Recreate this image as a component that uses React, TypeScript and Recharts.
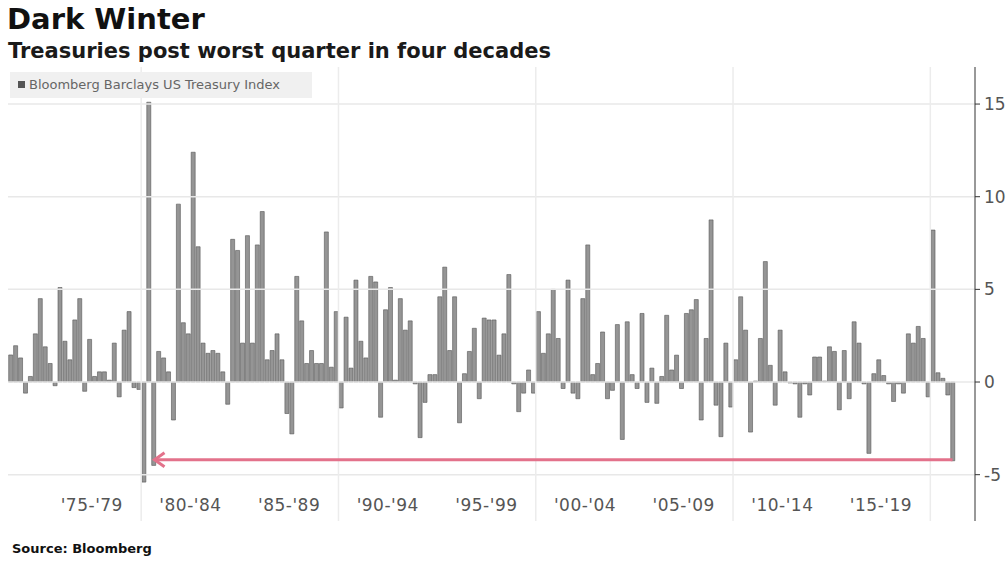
import React from "react";
import { BarChart, Bar, XAxis, YAxis, ReferenceLine } from "recharts";

// quarterly total return, %, Bloomberg Barclays US Treasury Index (1973 Q2 .. 2021 Q1)
const returns1970s = [
  1.46, 1.96, 1.3, -0.6, 0.3, 2.6, 4.5, 1.9, 1.0, -0.2, 5.1, 2.2, 1.2, 3.35,
  4.5, -0.5, 2.3, 0.3, 0.55, 0.55, 0.1, 2.1, -0.8, 2.8, 3.8, -0.3, -0.4,
];
const returns1980s = [
  -5.4, 15.1, -4.5, 1.65, 1.3, 0.55, -2.05, 9.6, 3.2, 2.6, 12.4, 7.3, 2.1, 1.55,
  1.7, 1.55, 0.55, -1.2, 7.7, 7.1, 2.1, 7.9, 2.1, 7.4, 9.2, 1.2, 1.7, 2.6, 1.2,
  -1.7, -2.8, 5.7, 3.3, 1.0, 1.7, 1.0, 1.0, 8.1, 0.8, 3.8,
];
const returns1990s = [
  -1.4, 3.5, 0.75, 5.5, 2.2, 1.3, 5.7, 5.4, -1.9, 3.9, 5.1, 0.1, 4.5, 2.8, 3.3,
  -0.1, -3.0, -1.1, 0.4, 0.4, 4.6, 6.2, 1.7, 4.6, -2.2, 0.45, 1.65, 2.9, -0.9,
  3.45, 3.35, 3.35, 1.45, 2.6, 5.8, -0.1, -1.6, -0.6, 0.65, -0.6,
];
const returns2000s = [
  3.8, 1.55, 2.6, 5.0, 2.35, -0.35, 5.5, -0.6, -0.9, 4.5, 7.4, 0.4, 1.0, 2.7,
  -0.9, -0.45, 3.1, -3.1, 3.25, 0.4, -0.35, 3.7, -1.1, 0.75, -1.15, 0.3, 3.6,
  0.65, 1.45, -0.35, 3.7, 3.9, 4.45, -2.05, 2.35, 8.75, -1.25, -2.95, 2.1, -1.35,
];
const returns2010s = [
  1.2, 4.6, 2.8, -2.7, 0.05, 2.35, 6.5, 0.9, -1.25, 2.8, 0.55, -0.05, -0.1, -1.9,
  -0.1, -0.7, 1.35, 1.35, 0.05, 1.9, 1.65, -1.5, 1.7, -0.9, 3.25, 2.1, -0.1,
  -3.85, 0.45, 1.2, 0.35, -0.1, -1.05, -0.1, -0.6, 2.6, 2.1, 3.0, 2.35, -0.8,
];
const returns2020s = [8.2, 0.5, 0.2, -0.7, -4.25];

const allReturns = [
  ...returns1970s,
  ...returns1980s,
  ...returns1990s,
  ...returns2000s,
  ...returns2010s,
  ...returns2020s,
];

// category labels: 1973Q2 onward
const quarters: string[] = allReturns.map((_, i) => {
  const n = 1973 * 4 + 1 + i;
  return `${Math.floor(n / 4)}Q${(n % 4) + 1}`;
});

const data = quarters.map((quarter, i) => ({ quarter, value: allReturns[i] }));

const periodTicks = ["1977Q3", "1982Q3", "1987Q3", "1992Q3", "1997Q3", "2002Q3", "2007Q3", "2012Q3", "2017Q3"];
const periodLabels = ["'75-'79", "'80-'84", "'85-'89", "'90-'94", "'95-'99", "'00-'04", "'05-'09", "'10-'14", "'15-'19"];
const decadeLines = ["1980Q1", "1990Q1", "2000Q1", "2010Q1", "2020Q1"];
const yTicks = [-5, 0, 5, 10, 15];

const arrowFrom = "1980Q3";
const arrowTo = "2021Q1";
const arrowLevel = -4.2;

const PeriodTick = (props: any) => {
  const { x, y, payload } = props;
  const idx = periodTicks.indexOf(payload.value);
  return (
    <text x={x - 2.5} y={y - 10} textAnchor="middle" fill="#555" fontSize={17} letterSpacing={0.5} fontFamily="DejaVu Sans">
      {periodLabels[idx]}
    </text>
  );
};

const ArrowShape = (props: any) => {
  const { x1, y1, x2 } = props;
  const left = Math.min(x1, x2);
  const right = Math.max(x1, x2);
  return (
    <g>
      <line x1={left + 2} y1={y1} x2={right} y2={y1} stroke="#e3728b" strokeWidth={3} />
      <path
        d={`M${left + 11},${y1 - 7} L${left + 1},${y1} L${left + 11},${y1 + 7}`}
        fill="none"
        stroke="#e3728b"
        strokeWidth={3}
      />
    </g>
  );
};

export default function App() {
  return (
    <div
      style={{
        position: "absolute",
        left: 0,
        top: 0,
        width: 1007,
        height: 564,
        background: "#fff",
        fontFamily: "DejaVu Sans",
        overflow: "hidden",
      }}
    >
      <div style={{ position: "absolute", left: 7, top: 5, fontSize: 29, lineHeight: "29px", fontWeight: 700, color: "#111" }}>
        Dark Winter
      </div>
      <div style={{ position: "absolute", left: 8, top: 41, fontSize: 21, lineHeight: "21px", fontWeight: 700, color: "#1a1a1a" }}>
        Treasuries post worst quarter in four decades
      </div>
      <div style={{ position: "absolute", left: 0, top: 0 }}>
        <BarChart
          width={1007}
          height={564}
          data={data}
          margin={{ top: 67, right: 0, bottom: 0, left: 8 }}
          barCategoryGap="14%"
        >
          {yTicks.map((t) => (
            <ReferenceLine key={`h${t}`} y={t} stroke="#e8e8e8" strokeWidth={1.5} />
          ))}
          {decadeLines.map((d) => (
            <ReferenceLine key={d} x={d} position="start" stroke="#ececec" strokeWidth={1.5} />
          ))}
          <XAxis
            dataKey="quarter"
            ticks={periodTicks}
            interval={0}
            tick={<PeriodTick />}
            tickLine={false}
            axisLine={false}
            tickSize={0}
            tickMargin={0}
            height={43}
            padding={{ left: 0, right: 20 }}
          />
          <YAxis
            orientation="right"
            domain={[-7.5, 17]}
            ticks={yTicks}
            width={32}
            axisLine={{ stroke: "#333" }}
            tickLine={{ stroke: "#333" }}
            tickSize={5}
            tickMargin={4}
            tick={{ fill: "#555", fontSize: 17, fontFamily: "DejaVu Sans" }}
          />
          <Bar dataKey="value" fill="#959595" stroke="#555" strokeWidth={0.6} isAnimationActive={false} />
          <ReferenceLine
            segment={[
              { x: arrowFrom, y: arrowLevel },
              { x: arrowTo, y: arrowLevel },
            ]}
            shape={ArrowShape}
          />
        </BarChart>
      </div>
      <div
        style={{
          position: "absolute",
          left: 10,
          top: 72,
          width: 302,
          height: 26,
          background: "#f0f0f0",
        }}
      >
        <div style={{ position: "absolute", left: 8, top: 9, width: 7, height: 7, background: "#555" }} />
        <div style={{ position: "absolute", left: 19, top: 5, fontSize: 13, lineHeight: "16px", color: "#666", whiteSpace: "nowrap" }}>
          Bloomberg Barclays US Treasury Index
        </div>
      </div>
      <div style={{ position: "absolute", left: 12, top: 541, fontSize: 13, lineHeight: "16px", fontWeight: 700, color: "#111" }}>
        Source: Bloomberg
      </div>
    </div>
  );
}
